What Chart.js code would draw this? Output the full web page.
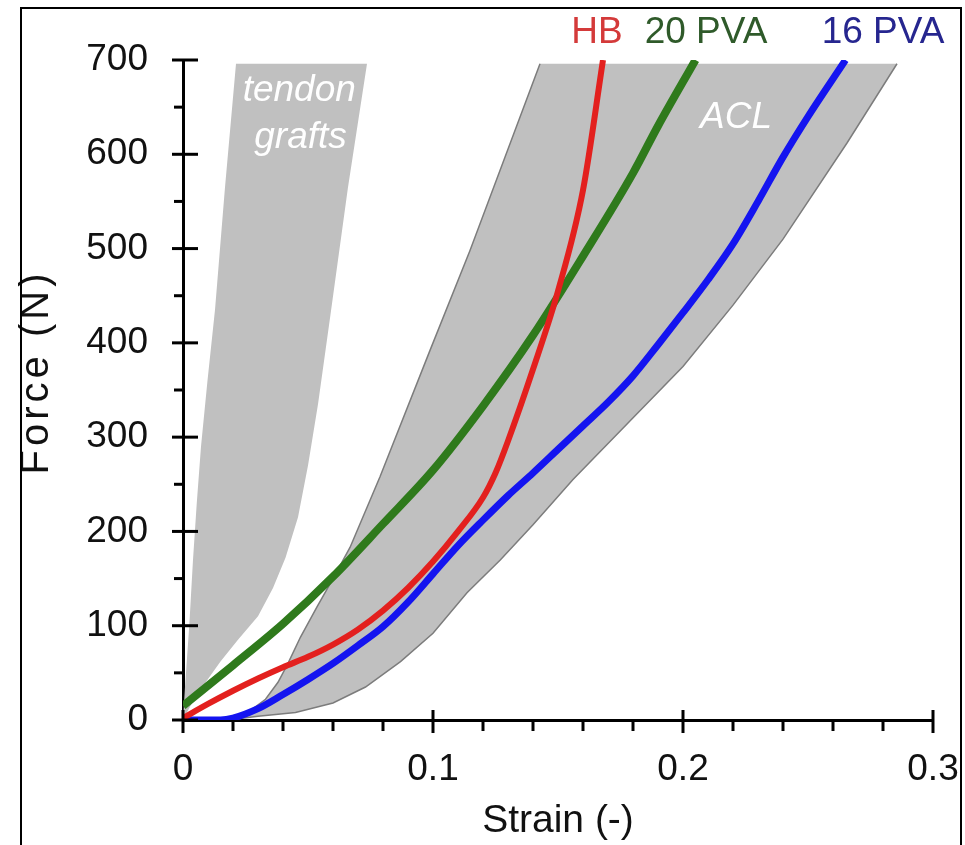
<!DOCTYPE html>
<html>
<head>
<meta charset="utf-8">
<script src="https://cdn.jsdelivr.net/npm/chart.js@4.4.1/dist/chart.umd.min.js"></script>
<style>
  html, body { margin: 0; padding: 0; background: #fff; }
  #wrap { position: relative; width: 965px; height: 845px; overflow: hidden; }
  #frame { position: absolute; left: 20px; top: 7px; width: 942px; height: 900px; border: 2px solid #000; border-bottom: none; box-sizing: border-box; pointer-events: none; }
</style>
</head>
<body>
<div id="wrap">
  <canvas id="chart" width="965" height="845"></canvas>
  <div id="frame"></div>
</div>
<script>
// force-strain curves
const hbStrain = [0, 0.01, 0.02, 0.03, 0.04, 0.05, 0.06, 0.07, 0.08, 0.09, 0.10, 0.11, 0.12, 0.125, 0.13, 0.14, 0.15, 0.16, 0.168];
const hbForce  = [2, 17, 31, 44, 56, 67, 80, 96, 116, 140, 168, 200, 236, 262, 296, 372, 455, 562, 700];

const pva20Strain = [0, 0.02, 0.04, 0.06, 0.08, 0.10, 0.12, 0.14, 0.16, 0.18, 0.19, 0.205];
const pva20Force  = [15, 58, 102, 152, 208, 265, 333, 408, 492, 580, 630, 700];

const pva16Strain = [0, 0.015, 0.02, 0.03, 0.04, 0.05, 0.06, 0.07, 0.08, 0.09, 0.10, 0.11, 0.12, 0.13, 0.14, 0.15, 0.16, 0.17, 0.18, 0.19, 0.20, 0.21, 0.22, 0.23, 0.24, 0.25, 0.265];
const pva16Force  = [0, 0, 2, 12, 27, 43, 60, 79, 99, 125, 155, 185, 212, 238, 262, 287, 312, 337, 365, 398, 432, 467, 505, 550, 597, 640, 700];

// ACL range: upper-left edge (bottom -> top), then lower-right edge (top -> bottom)
const aclUpperStrain = [0.018, 0.026, 0.033, 0.038, 0.042, 0.047, 0.0536, 0.06, 0.0668, 0.0788, 0.0988, 0.1148, 0.1428];
const aclUpperForce  = [0, 8, 22, 40, 60, 88, 120, 150, 183, 258, 392, 498, 696];
const aclLowerStrain = [0.2856, 0.2656, 0.24, 0.22, 0.2, 0.178, 0.156, 0.14, 0.127, 0.1136, 0.1, 0.087, 0.073, 0.06, 0.045, 0.03, 0.018];
const aclLowerForce  = [696, 612, 510, 440, 375, 315, 255, 207, 170, 135, 92, 62, 35, 18, 8, 4, 0];

// tendon graft range, same way round
const tendonLeftStrain  = [0, 0.0008, 0.0025, 0.004, 0.0055, 0.0072, 0.0098, 0.0128, 0.0168, 0.0212];
const tendonLeftForce   = [0, 35, 100, 170, 230, 290, 360, 435, 565, 696];
const tendonRightStrain = [0.0736, 0.066, 0.059, 0.054, 0.05, 0.046, 0.041, 0.036, 0.03, 0.022, 0.015, 0.008, 0.003, 0];
const tendonRightForce  = [696, 565, 430, 335, 270, 215, 172, 140, 110, 85, 62, 36, 15, 0];

const xTicks = [0, 0.1, 0.2, 0.3];
const xMinor = [0.02, 0.04, 0.06, 0.08, 0.12, 0.14, 0.16, 0.18, 0.22, 0.24, 0.26, 0.28];
const yTicks = [0, 100, 200, 300, 400, 500, 600, 700];
const yMinor = [50, 150, 250, 350, 450, 550, 650];

const FONT = "'Liberation Sans', Arial, sans-serif";

const pts = (xs, ys) => xs.map((v, i) => ({ x: v, y: ys[i] }));
const shape = (xs, ys, xs2, ys2) => pts(xs.concat(xs2), ys.concat(ys2));

function seg(ctx, x1, y1, x2, y2) {
    ctx.beginPath();
    ctx.moveTo(x1, y1);
    ctx.lineTo(x2, y2);
    ctx.stroke();
}

// tick marks crossing the axes + in-plot labels
const figureMarks = {
    id: 'figureMarks',
    afterDatasetsDraw(chart) {
        const { ctx, scales: { x, y } } = chart;
        ctx.save();
        ctx.textAlign = 'center';
        ctx.textBaseline = 'alphabetic';
        ctx.fillStyle = '#ffffff';
        ctx.font = `italic 37px ${FONT}`;
        ctx.fillText('tendon', x.getPixelForValue(0.0465), y.getPixelForValue(656));
        ctx.fillText('grafts', x.getPixelForValue(0.047), y.getPixelForValue(607));
        ctx.fillText('ACL', x.getPixelForValue(0.2212), y.getPixelForValue(628));

        ctx.font = `37px ${FONT}`;
        ctx.fillStyle = '#d43a3a';
        ctx.fillText('HB', x.getPixelForValue(0.1656), y.getPixelForValue(718));
        ctx.fillStyle = '#2f5a2a';
        ctx.fillText('20 PVA', x.getPixelForValue(0.2092), y.getPixelForValue(718));
        ctx.fillStyle = '#26268f';
        ctx.fillText('16 PVA', x.getPixelForValue(0.28), y.getPixelForValue(718));
        ctx.restore();
    },
    afterDraw(chart) {
        const { ctx, scales: { x, y } } = chart;
        const x0 = x.getPixelForValue(0), y0 = y.getPixelForValue(0);
        ctx.save();
        ctx.strokeStyle = '#000';
        ctx.lineWidth = 3;
        yTicks.forEach(v => { const p = y.getPixelForValue(v); seg(ctx, x0 - 11, p, x0 + 15, p); });
        yMinor.forEach(v => { const p = y.getPixelForValue(v); seg(ctx, x0 - 9, p, x0, p); });
        xTicks.forEach(v => { const p = x.getPixelForValue(v); seg(ctx, p, y0 - 10, p, y0 + 13); });
        xMinor.forEach(v => { const p = x.getPixelForValue(v); seg(ctx, p, y0, p, y0 + 11); });

        // y title, letter-spaced like the original
        ctx.translate(37, y.getPixelForValue(367));
        ctx.rotate(-Math.PI / 2);
        ctx.font = `40px ${FONT}`;
        ctx.letterSpacing = '4px';
        ctx.fillStyle = '#111';
        ctx.textAlign = 'center';
        ctx.textBaseline = 'middle';
        ctx.fillText('Force (N)', 2, 0);
        ctx.restore();
    }
};

new Chart(document.getElementById('chart'), {
    type: 'line',
    data: {
        datasets: [
            { label: 'HB', data: pts(hbStrain, hbForce), borderColor: '#e3201e', borderWidth: 6, cubicInterpolationMode: 'monotone', pointRadius: 0, fill: false },
            { label: '20 PVA', data: pts(pva20Strain, pva20Force), borderColor: '#2f7a1c', borderWidth: 8, cubicInterpolationMode: 'monotone', pointRadius: 0, fill: false },
            { label: '16 PVA', data: pts(pva16Strain, pva16Force), borderColor: '#1414f0', borderWidth: 7, cubicInterpolationMode: 'monotone', pointRadius: 0, fill: false },
            { label: 'ACL edge 1', data: pts(aclUpperStrain, aclUpperForce), borderColor: '#7c7c7c', borderWidth: 1.5, pointRadius: 0, tension: 0, fill: false },
            { label: 'ACL edge 2', data: pts(aclLowerStrain, aclLowerForce), borderColor: '#7c7c7c', borderWidth: 1.5, pointRadius: 0, tension: 0, fill: false },
            {
                label: 'ACL', data: shape(aclUpperStrain, aclUpperForce, aclLowerStrain, aclLowerForce),
                borderWidth: 0, borderColor: 'rgba(0,0,0,0)', backgroundColor: '#c0c0c0', fill: 'shape', pointRadius: 0, tension: 0
            },
            {
                label: 'tendon grafts', data: shape(tendonLeftStrain, tendonLeftForce, tendonRightStrain, tendonRightForce),
                borderWidth: 0, borderColor: 'rgba(0,0,0,0)', backgroundColor: '#c0c0c0', fill: 'shape', pointRadius: 0, tension: 0
            }
        ]
    },
    options: {
        responsive: false,
        animation: false,
        layout: { padding: { left: 10, top: 60, right: 32, bottom: 0 } },
        plugins: { legend: { display: false }, tooltip: { enabled: false } },
        scales: {
            x: {
                type: 'linear', min: 0, max: 0.3,
                afterBuildTicks: s => { s.ticks = xTicks.map(v => ({ value: v })); },
                afterFit: s => { s.height = 125; s.paddingLeft = 0; s.paddingRight = 0; },
                grid: { display: false, drawTicks: false },
                border: { display: true, color: '#000', width: 3 },
                ticks: { color: '#111', padding: 28, font: { family: FONT, size: 37 }, callback: v => v === 0 ? '0' : v.toFixed(1) },
                title: { display: true, text: 'Strain (-)', color: '#111', font: { family: FONT, size: 39 }, padding: { top: 0, bottom: 0 } }
            },
            y: {
                type: 'linear', min: 0, max: 700,
                afterBuildTicks: s => { s.ticks = yTicks.map(v => ({ value: v })); },
                afterFit: s => { s.width = 173; s.paddingTop = 0; s.paddingBottom = 0; },
                grid: { display: false, drawTicks: false },
                border: { display: true, color: '#000', width: 3 },
                ticks: { color: '#111', padding: 35, font: { family: FONT, size: 37 } },
                title: { display: false }
            }
        }
    },
    plugins: [figureMarks]
});
</script>
</body>
</html>
